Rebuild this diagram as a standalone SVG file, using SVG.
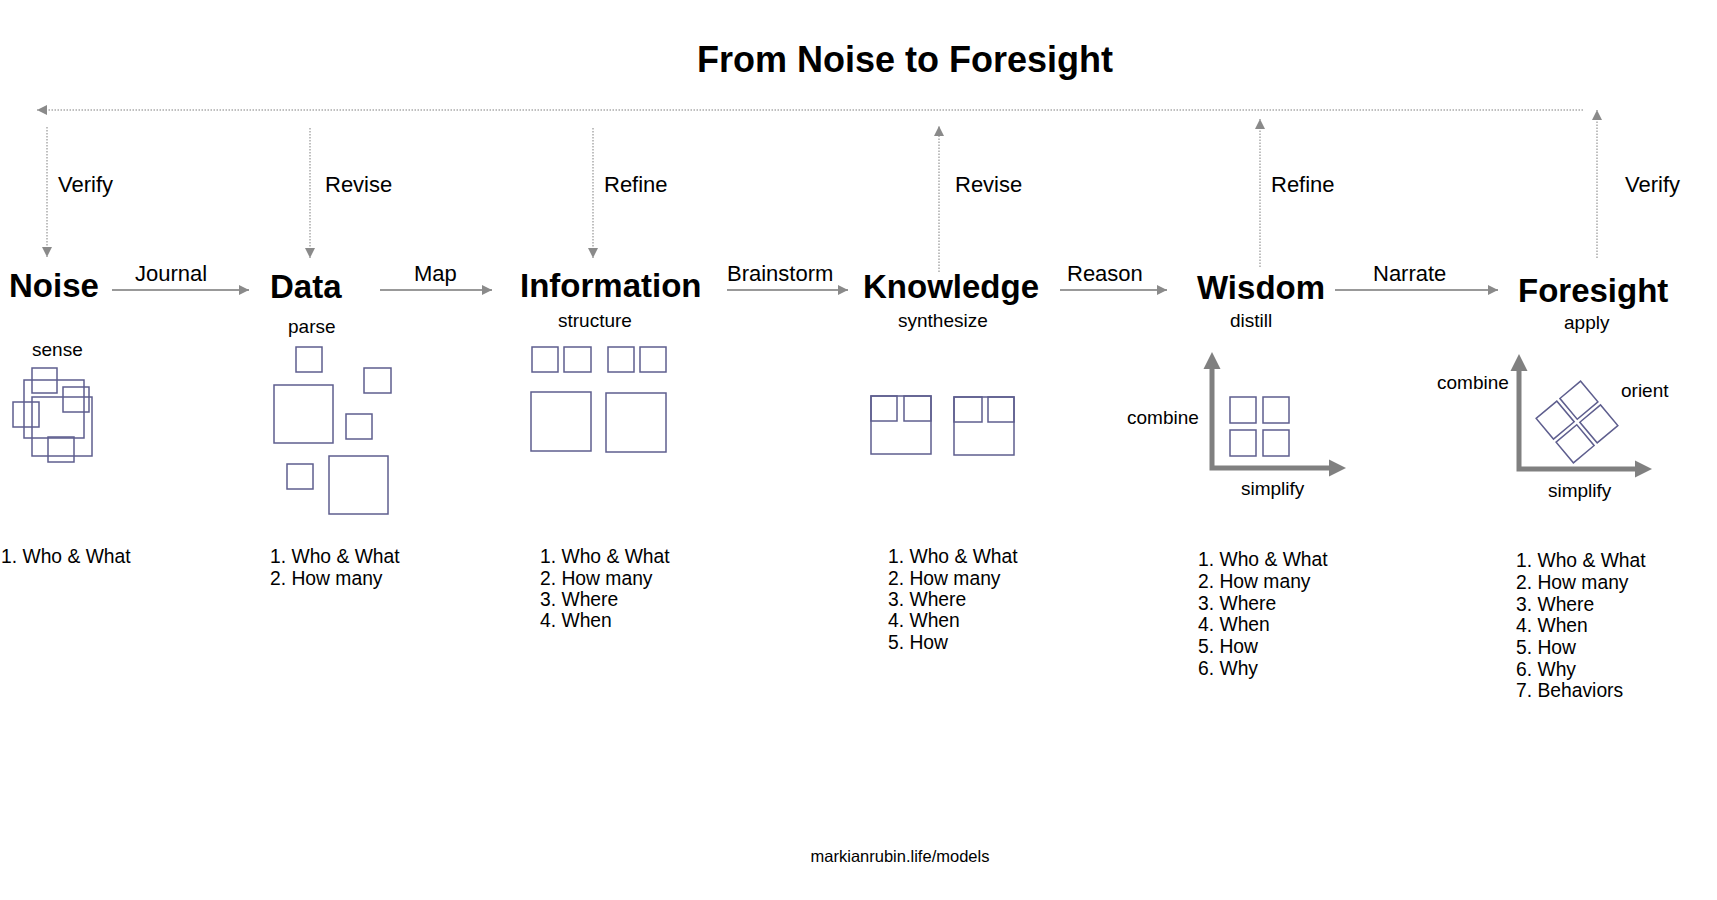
<svg xmlns="http://www.w3.org/2000/svg" width="1717" height="900" viewBox="0 0 1717 900">
<style>
text{font-family:"Liberation Sans",Arial,sans-serif;fill:#000}
.title{font-size:36px;font-weight:bold}
.node{font-size:33px;font-weight:bold}
.lbl{font-size:22px}
.sub{font-size:19px}
.list{font-size:19.3px}
.foot{font-size:16.5px}
.sq{fill:none;stroke:#5e5e8e;stroke-width:1.5}
.flow{stroke:#999;stroke-width:2;fill:none}
.dot{stroke:#aaa;stroke-width:1.5;stroke-dasharray:1.5 1.5;fill:none}
.axis{stroke:#808080;stroke-width:5;fill:none}
.axh{fill:#808080}
</style>
<defs>
<marker id="ah" viewBox="0 0 10 10" refX="10" refY="5" markerWidth="10" markerHeight="10" markerUnits="userSpaceOnUse" orient="auto"><path d="M0,0 L10,5 L0,10 z" fill="#8a8a8a"/></marker>
<marker id="ad" viewBox="0 0 10 10" refX="10" refY="5" markerWidth="10" markerHeight="10" markerUnits="userSpaceOnUse" orient="auto"><path d="M0,0 L10,5 L0,10 z" fill="#8a8a8a"/></marker>
</defs>
<rect width="1717" height="900" fill="#fff"/>
<text class="title" x="905" y="72" text-anchor="middle">From Noise to Foresight</text>

<g id="connectors">
<line class="dot" x1="1583" y1="110" x2="37" y2="110" marker-end="url(#ad)"/>
<line class="dot" x1="47" y1="127" x2="47" y2="257" marker-end="url(#ad)"/>
<line class="dot" x1="310" y1="128" x2="310" y2="258" marker-end="url(#ad)"/>
<line class="dot" x1="593" y1="128" x2="593" y2="258" marker-end="url(#ad)"/>
<line class="dot" x1="939" y1="272" x2="939" y2="126" marker-end="url(#ad)"/>
<line class="dot" x1="1260" y1="267" x2="1260" y2="119" marker-end="url(#ad)"/>
<line class="dot" x1="1597" y1="258" x2="1597" y2="110" marker-end="url(#ad)"/>
<text class="lbl" x="58" y="192">Verify</text>
<text class="lbl" x="325" y="192">Revise</text>
<text class="lbl" x="604" y="192">Refine</text>
<text class="lbl" x="955" y="192">Revise</text>
<text class="lbl" x="1271" y="192">Refine</text>
<text class="lbl" x="1625" y="192">Verify</text>

<line class="flow" x1="112" y1="290" x2="249" y2="290" marker-end="url(#ah)"/>
<line class="flow" x1="380" y1="290" x2="492" y2="290" marker-end="url(#ah)"/>
<line class="flow" x1="727" y1="290" x2="848" y2="290" marker-end="url(#ah)"/>
<line class="flow" x1="1060" y1="290" x2="1167" y2="290" marker-end="url(#ah)"/>
<line class="flow" x1="1335" y1="290" x2="1498" y2="290" marker-end="url(#ah)"/>
<text class="lbl" x="135" y="281">Journal</text>
<text class="lbl" x="414" y="281">Map</text>
<text class="lbl" x="727" y="281">Brainstorm</text>
<text class="lbl" x="1067" y="281">Reason</text>
<text class="lbl" x="1373" y="281">Narrate</text>
</g>

<g id="noise">
<text class="node" x="9" y="297">Noise</text>
<text class="sub" x="32" y="356">sense</text>
<rect class="sq" x="32" y="368" width="25" height="25"/>
<rect class="sq" x="24" y="380" width="60" height="58"/>
<rect class="sq" x="63" y="387" width="26" height="25"/>
<rect class="sq" x="32" y="397" width="60" height="59"/>
<rect class="sq" x="13" y="402" width="26" height="25"/>
<rect class="sq" x="48" y="437" width="26" height="25"/>
<text class="list" x="1" y="563">1. Who &amp; What</text>
</g>

<g id="data">
<text class="node" x="270" y="298">Data</text>
<text class="sub" x="288" y="333">parse</text>
<rect class="sq" x="296" y="347" width="26" height="25"/>
<rect class="sq" x="364" y="368" width="27" height="25"/>
<rect class="sq" x="274" y="385" width="59" height="58"/>
<rect class="sq" x="346" y="414" width="26" height="25"/>
<rect class="sq" x="287" y="464" width="26" height="25"/>
<rect class="sq" x="329" y="456" width="59" height="58"/>
<text class="list" x="270" y="563">1. Who &amp; What</text>
<text class="list" x="270" y="585">2. How many</text>
</g>

<g id="information">
<text class="node" x="520" y="297">Information</text>
<text class="sub" x="558" y="327">structure</text>
<rect class="sq" x="532" y="347" width="26" height="25"/>
<rect class="sq" x="564" y="347" width="27" height="25"/>
<rect class="sq" x="608" y="347" width="26" height="25"/>
<rect class="sq" x="640" y="347" width="26" height="25"/>
<rect class="sq" x="531" y="392" width="60" height="59"/>
<rect class="sq" x="606" y="393" width="60" height="59"/>
<text class="list" x="540" y="563">1. Who &amp; What</text>
<text class="list" x="540" y="585">2. How many</text>
<text class="list" x="540" y="606">3. Where</text>
<text class="list" x="540" y="627">4. When</text>
</g>

<g id="knowledge">
<text class="node" x="863" y="298">Knowledge</text>
<text class="sub" x="898" y="327">synthesize</text>
<rect class="sq" x="871" y="396" width="60" height="58"/>
<rect class="sq" x="871" y="396" width="26" height="25"/>
<rect class="sq" x="904" y="396" width="27" height="25"/>
<rect class="sq" x="954" y="397" width="60" height="58"/>
<rect class="sq" x="954" y="397" width="28" height="25"/>
<rect class="sq" x="988" y="397" width="26" height="25"/>
<text class="list" x="888" y="563">1. Who &amp; What</text>
<text class="list" x="888" y="585">2. How many</text>
<text class="list" x="888" y="606">3. Where</text>
<text class="list" x="888" y="627">4. When</text>
<text class="list" x="888" y="649">5. How</text>
</g>

<g id="wisdom">
<text class="node" x="1197" y="299">Wisdom</text>
<text class="sub" x="1230" y="327">distill</text>
<path class="axis" d="M1212,368 V468 H1330"/>
<polygon class="axh" points="1212,352 1203.5,369 1220.5,369"/>
<polygon class="axh" points="1346,468 1329,459.5 1329,476.5"/>
<text class="sub" x="1127" y="424">combine</text>
<text class="sub" x="1241" y="495">simplify</text>
<rect class="sq" x="1230" y="397" width="26" height="26"/>
<rect class="sq" x="1263" y="397" width="26" height="26"/>
<rect class="sq" x="1230" y="430" width="26" height="26"/>
<rect class="sq" x="1263" y="430" width="26" height="26"/>
<text class="list" x="1198" y="566">1. Who &amp; What</text>
<text class="list" x="1198" y="588">2. How many</text>
<text class="list" x="1198" y="610">3. Where</text>
<text class="list" x="1198" y="631">4. When</text>
<text class="list" x="1198" y="653">5. How</text>
<text class="list" x="1198" y="675">6. Why</text>
</g>

<g id="foresight">
<text class="node" x="1518" y="302">Foresight</text>
<text class="sub" x="1564" y="329">apply</text>
<path class="axis" d="M1519,370 V469 H1636"/>
<polygon class="axh" points="1519,354 1510.5,371 1527.5,371"/>
<polygon class="axh" points="1652,469 1635,460.5 1635,477.5"/>
<text class="sub" x="1437" y="389">combine</text>
<text class="sub" x="1621" y="397">orient</text>
<text class="sub" x="1548" y="497">simplify</text>
<g transform="rotate(-40 1577 422)">
<rect class="sq" x="1548" y="393" width="27" height="27"/>
<rect class="sq" x="1579" y="393" width="27" height="27"/>
<rect class="sq" x="1548" y="424" width="27" height="27"/>
<rect class="sq" x="1579" y="424" width="27" height="27"/>
</g>
<text class="list" x="1516" y="567">1. Who &amp; What</text>
<text class="list" x="1516" y="589">2. How many</text>
<text class="list" x="1516" y="611">3. Where</text>
<text class="list" x="1516" y="632">4. When</text>
<text class="list" x="1516" y="654">5. How</text>
<text class="list" x="1516" y="676">6. Why</text>
<text class="list" x="1516" y="697">7. Behaviors</text>
</g>

<text class="foot" x="900" y="862" text-anchor="middle">markianrubin.life/models</text>
</svg>
